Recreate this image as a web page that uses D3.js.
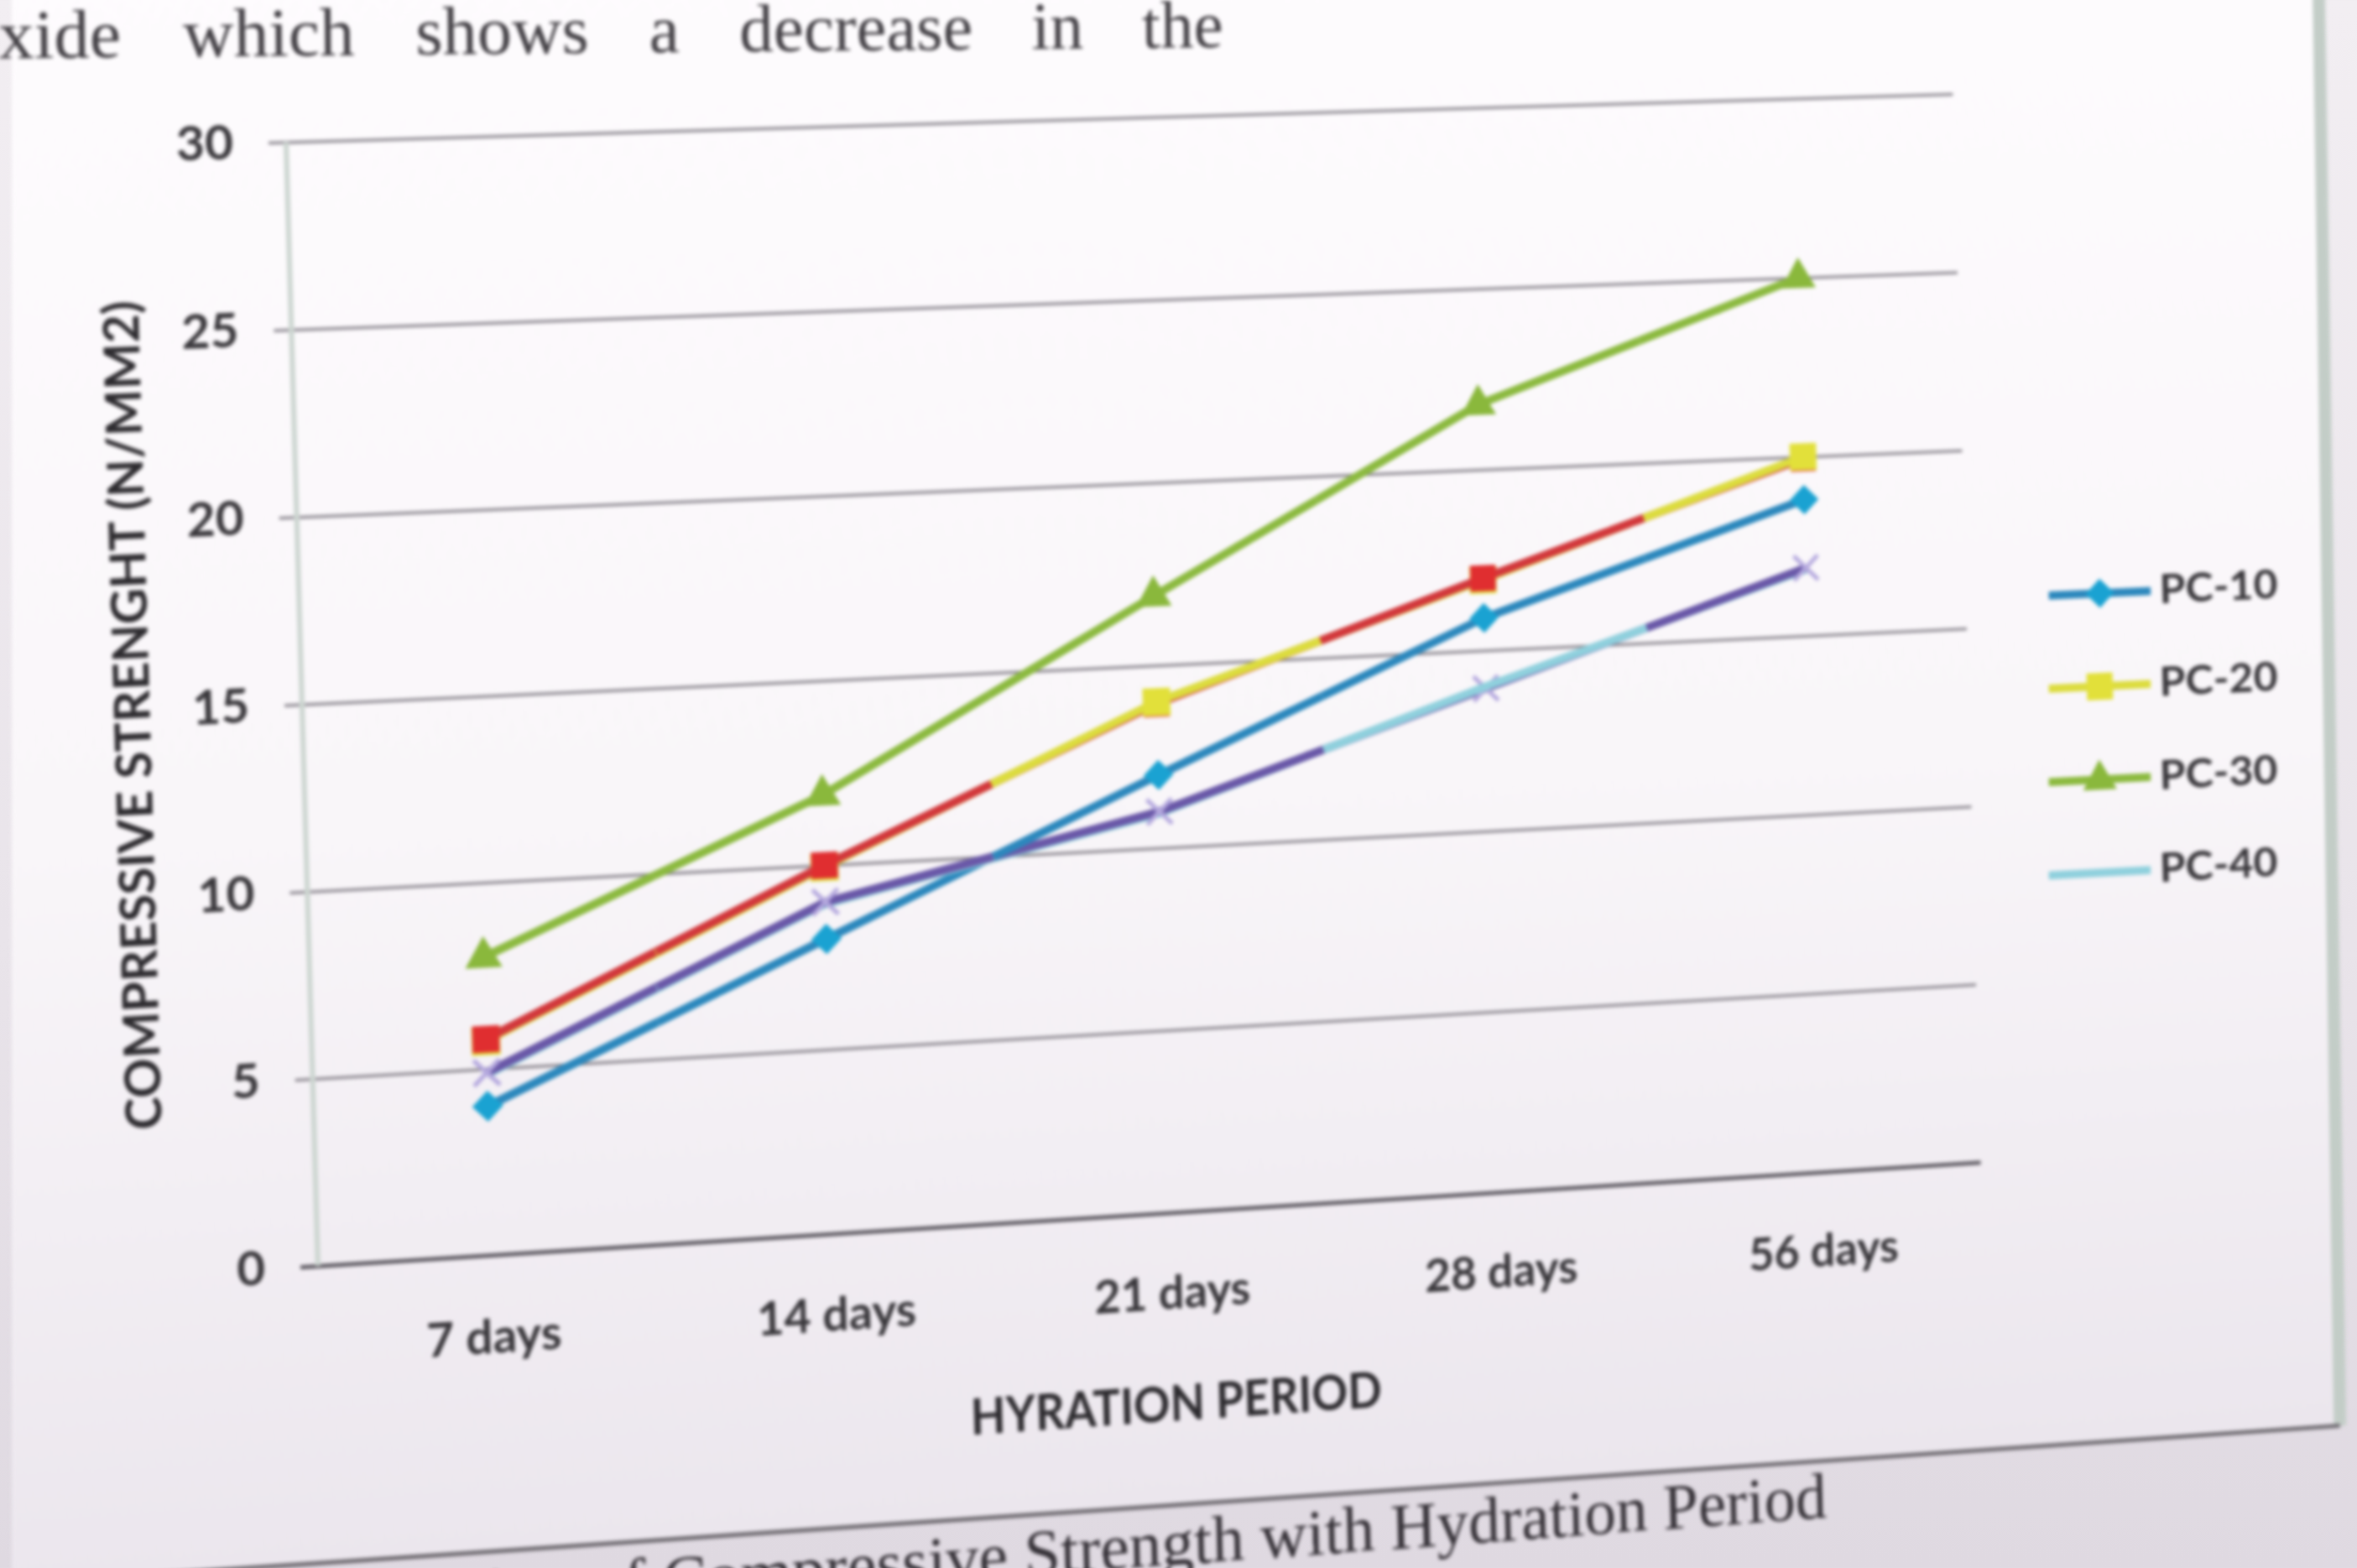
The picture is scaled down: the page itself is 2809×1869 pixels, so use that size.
<!DOCTYPE html>
<html>
<head>
<meta charset="utf-8">
<script src="https://cdn.jsdelivr.net/npm/d3@7"></script>
<style>
  html, body { margin: 0; padding: 0; overflow: hidden; }
  body { width: 2809px; height: 1869px; background: linear-gradient(to bottom, #f2eef2 0%, #e9e4ea 60%, #dfd9e1 100%); }
  #page { position: absolute; left: 0; top: 0; width: 2809px; height: 1869px; filter: blur(2.2px); }
  #chart { position: absolute; left: 0; top: 0; transform-origin: 0 0; }
</style>
</head>
<body>
<div id="page"></div>
<script>
// ---- data -------------------------------------------------------------
const categories = ["7 days", "14 days", "21 days", "28 days", "56 days"];
const pc10 = [4.0, 8.0, 12.0, 15.9, 18.8];
const pc20 = [5.75, 9.95, 14.0, 16.95, 20.0];
const pc30 = [8.0, 11.9, 16.9, 21.8, 25.0];
const pc40 = [4.85, 8.95, 10.95, 14.0, 16.85];
const redValues = [5.8, 10.0, 13.95, 17.0, 19.95];
const purpleValues = [4.9, 9.0, 11.0, 13.95, 16.9];
const yTicks = [0, 5, 10, 15, 20, 25, 30];
const legendLabels = ["PC-10", "PC-20", "PC-30", "PC-40"];
const yTitle = "COMPRESSIVE STRENGHT (N/MM2)";
const xTitle = "HYRATION PERIOD";
const bodyLine = "oxide which shows a decrease in the";
const captionLine = "Variation of Compressive Strength with Hydration Period";

// ---- page geometry ----------------------------------------------------
const W = 2809, H = 1869;
const plot = { left: 340, right: 2340, top: 140, bottom: 1448 };
const tickStart = 320;

// The printed page is seen at an angle: the flat chart frame is mapped
// onto the tilted quadrilateral it occupies on the page.
const frameFlat = [[320, 140], [2340, 140], [2340, 1448], [320, 1448]];
const framePage = [[320, 170], [2327, 112], [2360, 1385], [358, 1510]];

function solveHomography(src, dst) {
  const A = [], b = [];
  for (let i = 0; i < 4; i++) {
    const [x, y] = src[i], [u, v] = dst[i];
    A.push([x, y, 1, 0, 0, 0, -u * x, -u * y]); b.push(u);
    A.push([0, 0, 0, x, y, 1, -v * x, -v * y]); b.push(v);
  }
  const n = 8;
  for (let c = 0; c < n; c++) {
    let p = c;
    for (let r = c + 1; r < n; r++) if (Math.abs(A[r][c]) > Math.abs(A[p][c])) p = r;
    [A[c], A[p]] = [A[p], A[c]]; [b[c], b[p]] = [b[p], b[c]];
    for (let r = 0; r < n; r++) {
      if (r === c) continue;
      const f = A[r][c] / A[c][c];
      for (let k = c; k < n; k++) A[r][k] -= f * A[c][k];
      b[r] -= f * b[c];
    }
  }
  const h = b.map((v, i) => v / A[i][i]);
  return [[h[0], h[1], h[2]], [h[3], h[4], h[5]], [h[6], h[7], 1]];
}
function invert3(m) {
  const [[a, b, c], [d, e, f], [g, h, i]] = m;
  const A = e * i - f * h, B = -(d * i - f * g), C = d * h - e * g;
  const det = a * A + b * B + c * C;
  return [
    [A / det, -(b * i - c * h) / det, (b * f - c * e) / det],
    [B / det, (a * i - c * g) / det, -(a * f - c * d) / det],
    [C / det, -(a * h - b * g) / det, (a * e - b * d) / det]
  ];
}
const Hm = solveHomography(frameFlat, framePage);
const Hinv = invert3(Hm);
// page position -> flat chart position
function flat(u, v) {
  const X = Hinv[0][0] * u + Hinv[0][1] * v + Hinv[0][2];
  const Y = Hinv[1][0] * u + Hinv[1][1] * v + Hinv[1][2];
  const Z = Hinv[2][0] * u + Hinv[2][1] * v + Hinv[2][2];
  return [X / Z, Y / Z];
}

// ---- svg --------------------------------------------------------------
const svg = d3.select("#page").append("svg")
  .attr("id", "chart")
  .attr("width", W).attr("height", H)
  .style("overflow", "visible")
  .style("transform",
    `matrix3d(${Hm[0][0]},${Hm[1][0]},0,${Hm[2][0]},${Hm[0][1]},${Hm[1][1]},0,${Hm[2][1]},0,0,1,0,${Hm[0][2]},${Hm[1][2]},0,1)`);

const defs = svg.append("defs");
const bg = defs.append("linearGradient").attr("id", "areaFill")
  .attr("x1", 0).attr("y1", 0).attr("x2", 0).attr("y2", 1);
bg.append("stop").attr("offset", 0).attr("stop-color", "#fefcfe");
bg.append("stop").attr("offset", 0.55).attr("stop-color", "#f9f6f9");
bg.append("stop").attr("offset", 1).attr("stop-color", "#ebe6ed");

// chart area (paper inside the chart border)
const areaCorners = [[14, -80], [2762, -80], [2788, 1699], [14, 1888]].map(p => flat(p[0], p[1]));
svg.append("path")
  .attr("d", "M" + areaCorners.map(p => p.join(",")).join("L") + "Z")
  .attr("fill", "url(#areaFill)");
// right and bottom border of the chart area
svg.append("path")
  .attr("d", `M${areaCorners[1].join(",")}L${areaCorners[2].join(",")}`)
  .attr("stroke", "#c3cdc7").attr("stroke-width", 16).attr("fill", "none");
svg.append("path")
  .attr("d", `M${areaCorners[2].join(",")}L${areaCorners[3].join(",")}`)
  .attr("stroke", "#6c686e").attr("stroke-width", 5).attr("fill", "none");

// ---- scales & axes ----------------------------------------------------
const x = d3.scaleBand().domain(categories).range([plot.left, plot.right]).padding(0);
const cx = c => x(c) + x.bandwidth() / 2;
const y = d3.scaleLinear().domain([0, 30]).range([plot.bottom, plot.top]);

const yAxis = svg.append("g")
  .attr("transform", `translate(${tickStart},0)`)
  .call(d3.axisLeft(y).tickValues(yTicks).tickSizeInner(-(plot.right - tickStart)).tickSizeOuter(0).tickPadding(40));
yAxis.select(".domain").remove();
yAxis.selectAll(".tick line")
  .attr("stroke", d => d === 0 ? "#625e66" : "#8e8a92")
  .attr("stroke-width", d => d === 0 ? 5 : 3.5);
yAxis.selectAll(".tick text")
  .attr("font-family", "Lato, 'Open Sans', sans-serif")
  .attr("font-size", 56).attr("font-weight", 700).attr("fill", "#3a383c");

// vertical axis line
svg.append("line")
  .attr("x1", plot.left).attr("x2", plot.left)
  .attr("y1", y(30)).attr("y2", y(0))
  .attr("stroke", "#cdd6d1").attr("stroke-width", 6);

const xAxis = svg.append("g")
  .attr("transform", `translate(0,${plot.bottom})`)
  .call(d3.axisBottom(x).tickSize(0).tickPadding(76));
xAxis.select(".domain").remove();
xAxis.selectAll(".tick text")
  .attr("font-family", "Lato, 'Open Sans', sans-serif")
  .attr("font-size", 55).attr("font-weight", 700).attr("fill", "#3a383c");

// axis titles
const yt = flat(156, 853);
svg.append("text")
  .attr("transform", `translate(${yt[0]},${yt[1]}) rotate(-90)`)
  .attr("text-anchor", "middle").attr("dominant-baseline", "central")
  .attr("font-family", "Lato, 'Open Sans', sans-serif")
  .attr("font-size", 56).attr("font-weight", 700).attr("fill", "#2e2c30")
  .attr("textLength", 960).attr("lengthAdjust", "spacingAndGlyphs")
  .text(yTitle);

const xt = flat(1403, 1670);
svg.append("text")
  .attr("x", xt[0]).attr("y", xt[1])
  .attr("text-anchor", "middle").attr("dominant-baseline", "central")
  .attr("font-family", "Lato, 'Open Sans', sans-serif")
  .attr("font-size", 60).attr("font-weight", 700).attr("fill", "#2e2c30")
  .attr("textLength", 495).attr("lengthAdjust", "spacingAndGlyphs")
  .text(xTitle);

// ---- series -----------------------------------------------------------
const series = [
  { label: "PC-10", values: pc10, line: "#2c88bd", mark: "#1aa2d2", shape: "diamond" },
  { label: "PC-20", values: pc20, line: "#dcdc3e", mark: "#e2e03a", shape: "square" },
  { label: "PC-30", values: pc30, line: "#8cba40", mark: "#8ab83c", shape: "triangle" },
  { label: "PC-40", values: pc40, line: "#8fd0dd", mark: null, shape: null },
  { label: "", values: redValues, line: "#d2383c", mark: "#e02e30", shape: "square" },
  { label: "", values: purpleValues, line: "#6a58a8", mark: "#b4a8de", shape: "x" }
];

function drawMarker(g, s, px, py) {
  if (!s.shape) return;
  if (s.shape === "x") {
    const r = 15;
    g.append("path")
      .attr("d", `M${px - r},${py - r}L${px + r},${py + r}M${px - r},${py + r}L${px + r},${py - r}`)
      .attr("stroke", s.mark).attr("stroke-width", 5).attr("fill", "none");
    return;
  }
  const sym = s.shape === "triangle" ? d3.symbolTriangle : d3.symbolSquare;
  const size = s.shape === "diamond" ? 650 : s.shape === "triangle" ? 800 : (s.mark === "#e2e03a" ? 1100 : 980);
  g.append("path")
    .attr("d", d3.symbol(sym, size)())
    .attr("transform", `translate(${px},${py})` + (s.shape === "diamond" ? " rotate(45)" : ""))
    .attr("fill", s.mark);
}

// Each series is split into pieces around each category point (half a
// segment on either side).  Near every category the series with the
// higher reading is drawn above the others.
const n = categories.length;
const pieces = [];
series.forEach(s => {
  s.values.forEach((v, i) => {
    const px = cx(categories[i]), py = y(v);
    const pts = [];
    if (i > 0) pts.push([(cx(categories[i - 1]) + px) / 2, (y(s.values[i - 1]) + py) / 2]);
    pts.push([px, py]);
    if (i < n - 1) pts.push([(cx(categories[i + 1]) + px) / 2, (y(s.values[i + 1]) + py) / 2]);
    pieces.push({ s, i, v, pts, px, py });
  });
});
pieces.sort((a, b) => a.v - b.v);

const lineGen = d3.line();
const marks = svg.append("g");
pieces.forEach(p => {
  const g = marks.append("g");
  g.append("path")
    .attr("d", lineGen(p.pts))
    .attr("fill", "none").attr("stroke", p.s.line)
    .attr("stroke-width", 10).attr("stroke-linejoin", "round");
  drawMarker(g, p.s, p.px, p.py);
});

// ---- legend -----------------------------------------------------------
legendLabels.forEach((lab, k) => {
  const s = series.find(d => d.label === lab);
  const [lx, ly] = flat(2502, 707 + k * 111);
  const g = svg.append("g");
  g.append("line")
    .attr("x1", lx - 65).attr("x2", lx + 65).attr("y1", ly).attr("y2", ly)
    .attr("stroke", s.line).attr("stroke-width", 10);
  drawMarker(g, s, lx, ly);
  g.append("text")
    .attr("x", lx + 76).attr("y", ly - 4)
    .attr("dominant-baseline", "central")
    .attr("font-family", "Lato, 'Open Sans', sans-serif")
    .attr("font-size", 50).attr("font-weight", 700).attr("fill", "#3a383c")
    .attr("textLength", 152).attr("lengthAdjust", "spacingAndGlyphs")
    .text(lab);
});

// ---- surrounding page text ---------------------------------------------
const bt = flat(-44, 70);
svg.append("text")
  .attr("transform", `translate(${bt[0]},${bt[1]}) rotate(1)`)
  .attr("font-family", "'Liberation Serif', 'DejaVu Serif', serif")
  .attr("font-size", 80).attr("fill", "#434045")
  .attr("word-spacing", 50)
  .text(bodyLine);

const ct = flat(2177, 1808);
svg.append("text")
  .attr("x", ct[0]).attr("y", ct[1])
  .attr("text-anchor", "end")
  .attr("font-family", "'Liberation Serif', 'DejaVu Serif', serif")
  .attr("font-size", 78).attr("fill", "#353137")
  .text(captionLine);
</script>
</body>
</html>
